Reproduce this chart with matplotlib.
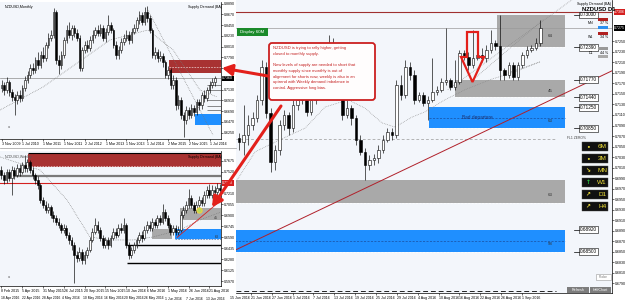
import matplotlib
matplotlib.use("Agg")
import matplotlib.pyplot as plt
import matplotlib.transforms as mtransforms
from matplotlib.patches import Rectangle, FancyBboxPatch, FancyArrowPatch, Polygon
import numpy as np

plt.rcParams['font.family'] = ['Liberation Sans', 'DejaVu Sans']

W, H = 625, 301
BG = '#f3f6fb'
ZONE_RED = '#a83232'
ZONE_GREY = '#a9a9a9'
ZONE_BLUE = '#1f8fff'
ARROW_RED = '#e3201b'
SMALL = 2.6

# ---------------- NZDUSD monthly (top left) ----------------
m_open0 = 0.716
m_close = [0.722, 0.712, 0.728, 0.708, 0.698, 0.692, 0.702, 0.696, 0.716, 0.733,
           0.743, 0.757, 0.753, 0.773, 0.763, 0.784, 0.778, 0.804, 0.819, 0.825,
           0.872, 0.773, 0.763, 0.784, 0.814, 0.835, 0.825, 0.839, 0.829, 0.819,
           0.757, 0.794, 0.804, 0.798, 0.814, 0.825, 0.835, 0.829, 0.839, 0.819,
           0.831, 0.845, 0.835, 0.804, 0.784, 0.794, 0.810, 0.819, 0.825, 0.814,
           0.831, 0.839, 0.855, 0.866, 0.851, 0.872, 0.859, 0.835, 0.784, 0.790,
           0.778, 0.782, 0.769, 0.743, 0.753, 0.722, 0.733, 0.681, 0.692, 0.661,
           0.651, 0.671, 0.661, 0.675, 0.667, 0.687, 0.681, 0.702, 0.696, 0.712,
           0.722, 0.728, 0.736]
m_high = [0.732, 0.728, 0.738, 0.732, 0.714, 0.704, 0.710, 0.712, 0.722, 0.740,
          0.752, 0.765, 0.768, 0.780, 0.790, 0.792, 0.800, 0.810, 0.828, 0.835,
          0.880, 0.876, 0.784, 0.792, 0.820, 0.845, 0.851, 0.846, 0.845, 0.836,
          0.825, 0.800, 0.812, 0.815, 0.822, 0.834, 0.842, 0.845, 0.848, 0.845,
          0.838, 0.866, 0.852, 0.840, 0.812, 0.802, 0.818, 0.826, 0.834, 0.832,
          0.838, 0.848, 0.862, 0.874, 0.872, 0.882, 0.884, 0.866, 0.840, 0.800,
          0.796, 0.792, 0.788, 0.774, 0.762, 0.758, 0.742, 0.738, 0.702, 0.698,
          0.668, 0.680, 0.678, 0.684, 0.682, 0.694, 0.694, 0.708, 0.712, 0.718,
          0.730, 0.736, 0.740]
m_low = [0.708, 0.702, 0.706, 0.700, 0.690, 0.661, 0.684, 0.688, 0.690, 0.710,
         0.726, 0.736, 0.745, 0.746, 0.755, 0.757, 0.770, 0.772, 0.798, 0.812,
         0.818, 0.765, 0.745, 0.756, 0.778, 0.808, 0.818, 0.815, 0.820, 0.812,
         0.750, 0.750, 0.788, 0.790, 0.792, 0.808, 0.818, 0.822, 0.822, 0.812,
         0.810, 0.825, 0.828, 0.798, 0.776, 0.776, 0.788, 0.804, 0.812, 0.806,
         0.808, 0.826, 0.832, 0.848, 0.845, 0.846, 0.852, 0.828, 0.778, 0.775,
         0.770, 0.772, 0.760, 0.736, 0.735, 0.715, 0.714, 0.672, 0.674, 0.652,
         0.616, 0.642, 0.652, 0.654, 0.658, 0.660, 0.672, 0.674, 0.688, 0.690,
         0.706, 0.716, 0.720]
m_dates = ["3 Nov 2009", "1 Jul 2010", "1 Mar 2011", "1 Nov 2011", "2 Jul 2012",
           "1 Mar 2013", "1 Nov 2013", "1 Jul 2014", "2 Mar 2015", "2 Nov 2015",
           "1 Jul 2016"]
m_supply = (64.4, 0.7469, 0.7735, 0.7592)     # start bar, low, high, mid dash
m_demand = (74.4, 0.6404, 0.6629)
m_ma_idx = [-0.6, 16.0, 41.7, 56.3, 66.0, 76.3, 83.0]
m_ma_val = [0.6711, 0.7183, 0.8144, 0.8349, 0.7940, 0.7121, 0.6977]
m_diag_idx = [56.3, 81.3]
m_diag_val = [0.8758, 0.6200]
m_levels = [0.7223, 0.7121, 0.6916, 0.6793, 0.6711]

# ---------------- NZDUSD weekly (bottom left) ----------------
w_open0 = 0.754
w_close = [0.747, 0.740, 0.751, 0.743, 0.754, 0.747, 0.757, 0.751, 0.761, 0.757,
           0.765, 0.754, 0.747, 0.740, 0.733, 0.712, 0.705, 0.698, 0.702, 0.691,
           0.686, 0.681, 0.677, 0.670, 0.672, 0.663, 0.655, 0.648, 0.634, 0.630,
           0.639, 0.627, 0.634, 0.641, 0.655, 0.667, 0.677, 0.670, 0.658, 0.648,
           0.655, 0.648, 0.658, 0.667, 0.663, 0.672, 0.670, 0.677, 0.648, 0.634,
           0.641, 0.648, 0.655, 0.663, 0.658, 0.670, 0.677, 0.672, 0.681, 0.677,
           0.686, 0.681, 0.695, 0.686, 0.677, 0.667, 0.672, 0.667, 0.670, 0.691,
           0.698, 0.705, 0.715, 0.705, 0.698, 0.705, 0.712, 0.708, 0.719, 0.726,
           0.719, 0.726, 0.723, 0.729, 0.726]
w_high = [0.760, 0.752, 0.756, 0.755, 0.760, 0.758, 0.763, 0.762, 0.766, 0.775,
          0.770, 0.768, 0.758, 0.750, 0.745, 0.736, 0.716, 0.710, 0.707, 0.705,
          0.696, 0.690, 0.686, 0.680, 0.678, 0.676, 0.667, 0.660, 0.652, 0.640,
          0.645, 0.643, 0.640, 0.646, 0.660, 0.672, 0.686, 0.682, 0.674, 0.662,
          0.660, 0.659, 0.663, 0.672, 0.673, 0.678, 0.680, 0.686, 0.680, 0.652,
          0.646, 0.653, 0.660, 0.667, 0.668, 0.675, 0.682, 0.682, 0.686, 0.685,
          0.691, 0.690, 0.706, 0.699, 0.690, 0.680, 0.677, 0.676, 0.675, 0.696,
          0.703, 0.710, 0.728, 0.719, 0.709, 0.710, 0.717, 0.716, 0.724, 0.732,
          0.734, 0.733, 0.731, 0.736, 0.734]
w_low = [0.742, 0.735, 0.736, 0.738, 0.719, 0.742, 0.744, 0.746, 0.748, 0.752,
         0.752, 0.750, 0.742, 0.735, 0.728, 0.708, 0.700, 0.694, 0.693, 0.686,
         0.681, 0.676, 0.672, 0.665, 0.666, 0.658, 0.650, 0.642, 0.595, 0.624,
         0.626, 0.622, 0.622, 0.630, 0.638, 0.652, 0.664, 0.666, 0.654, 0.644,
         0.644, 0.643, 0.645, 0.655, 0.658, 0.660, 0.666, 0.666, 0.644, 0.628,
         0.630, 0.637, 0.644, 0.651, 0.653, 0.655, 0.666, 0.668, 0.668, 0.672,
         0.673, 0.676, 0.678, 0.682, 0.672, 0.662, 0.663, 0.662, 0.663, 0.667,
         0.687, 0.694, 0.701, 0.700, 0.694, 0.694, 0.701, 0.704, 0.704, 0.715,
         0.715, 0.715, 0.718, 0.719, 0.721]
w_dates = ["8 Feb 2015", "5 Apr 2015", "31 May 2015", "26 Jul 2015", "20 Sep 2015",
           "15 Nov 2015", "10 Jan 2016", "6 Mar 2016", "1 May 2016", "26 Jun 2016",
           "21 Aug 2016"]
w_dates_row2 = ["18 Apr 2016", "22 Apr 2016", "28 Apr 2016", "4 May 2016", "10 May 2016",
                "16 May 2016", "20 May 2016", "26 May 2016", "1 Jun 2016", "7 Jun 2016",
                "13 Jun 2016"]
w_supply = (10.3, 0.7584, 0.7767, 0.7598, 0.7781)
w_band = (4.1, 0.7451)
w_red_line = 0.7358
w_grey1 = (58.0, 65.7, 0.6567, 0.6710)
w_grey2 = (68.7, 0.6835, 0.7005, "45")
w_blue = (66.8, 0.6563, 0.6710, "63")
w_black_lines = (48.3, [0.6484, 0.6230])
w_trend_idx = [67.6, 84.9]
w_trend_val = [0.6591, 0.7127]
w_ma_idx = [-0.5, 14.9, 25.3, 34.1, 41.8, 50.7, 58.3, 68.7, 76.4, 84.5]
w_ma_val = [0.7725, 0.7541, 0.7118, 0.6597, 0.6555, 0.6555, 0.6597, 0.6696, 0.6837, 0.6949]
w_blob = (76.0, 0.6978)

# ---------------- NZDUSD daily (right) ----------------
d_open0 = 0.7066
d_close = [0.7059, 0.7072, 0.7091, 0.7104, 0.7139, 0.7201, 0.7114, 0.7021, 0.7044, 0.7091,
           0.7110, 0.7085, 0.7129, 0.7139, 0.7148, 0.7116, 0.7139, 0.7154, 0.7177, 0.7205,
           0.7243, 0.7224, 0.7167, 0.7110, 0.7123, 0.7104, 0.7063, 0.7040, 0.7015, 0.7025,
           0.7028, 0.7044, 0.7063, 0.7078, 0.7072, 0.7167, 0.7148, 0.7201, 0.7186, 0.7139,
           0.7148, 0.7133, 0.7139, 0.7154, 0.7158, 0.7173, 0.7177, 0.7163, 0.7173, 0.7228,
           0.7220, 0.7205, 0.7218, 0.7224, 0.7218, 0.7234, 0.7247, 0.7241, 0.7196, 0.7186,
           0.7205, 0.7182, 0.7205, 0.7224, 0.7234, 0.7237, 0.7247, 0.7275]
d_high = [0.7076, 0.7129, 0.7110, 0.7116, 0.7148, 0.7215, 0.7211, 0.7123, 0.7053, 0.7101,
          0.7120, 0.7116, 0.7139, 0.7158, 0.7158, 0.7154, 0.7148, 0.7165, 0.7186, 0.7224,
          0.7262, 0.7256, 0.7234, 0.7173, 0.7139, 0.7129, 0.7110, 0.7072, 0.7047, 0.7034,
          0.7036, 0.7053, 0.7072, 0.7085, 0.7085, 0.7177, 0.7186, 0.7215, 0.7211, 0.7196,
          0.7154, 0.7154, 0.7146, 0.7218, 0.7165, 0.7180, 0.7275, 0.7180, 0.7215, 0.7234,
          0.7234, 0.7230, 0.7272, 0.7230, 0.7237, 0.7243, 0.7272, 0.7253, 0.7300, 0.7199,
          0.7211, 0.7211, 0.7211, 0.7230, 0.7241, 0.7243, 0.7256, 0.7291]
d_low = [0.7044, 0.7034, 0.7053, 0.7082, 0.7097, 0.7129, 0.7104, 0.7002, 0.7006, 0.7034,
         0.7082, 0.7072, 0.7078, 0.7120, 0.7131, 0.7108, 0.7110, 0.7131, 0.7148, 0.7167,
         0.7196, 0.7215, 0.7158, 0.7101, 0.7104, 0.7091, 0.7053, 0.7034, 0.6987, 0.7006,
         0.7015, 0.7019, 0.7038, 0.7059, 0.7063, 0.7066, 0.7139, 0.7142, 0.7177, 0.7131,
         0.7135, 0.7127, 0.7101, 0.7135, 0.7148, 0.7154, 0.7167, 0.7158, 0.7158, 0.7169,
         0.7215, 0.7196, 0.7199, 0.7215, 0.7211, 0.7211, 0.7228, 0.7234, 0.7177, 0.7177,
         0.7180, 0.7177, 0.7177, 0.7199, 0.7218, 0.7230, 0.7234, 0.7241]
d_dates = ["15 Jun 2016", "21 Jun 2016", "27 Jun 2016", "1 Jul 2016", "7 Jul 2016",
           "13 Jul 2016", "19 Jul 2016", "25 Jul 2016", "29 Jul 2016", "4 Aug 2016",
           "10 Aug 2016", "16 Aug 2016", "22 Aug 2016", "26 Aug 2016", "1 Sep 2016"]
d_zone_start = [57.3, 48.0, 42.2, -1.0, -1.0]
d_zone_lo = [0.7239, 0.7144, 0.7085, 0.6943, 0.6850]
d_zone_hi = [0.7300, 0.7177, 0.7125, 0.6987, 0.6892]
d_zone_blue = [False, False, True, False, True]
d_zone_tag = ["64", "45", "63", "63", "58"]
d_zone_end = 72.4
d_level_labels = [0.7300, 0.7239, 0.7177, 0.7144, 0.7125, 0.7085, 0.6892, 0.6850]
d_top_line = 0.7306
d_dash_mid = 0.7065
d_dash_low = 0.6776
d_trend_idx = [-0.67, 82.9]
d_trend_val = [0.6854, 0.7194]
d_ma_idx = [-0.67, 3.56, 9.11, 14.67, 19.11, 24.22, 28.0, 31.78, 34.67, 38.44,
            41.33, 45.78, 50.22, 55.78, 61.33, 66.89]
d_ma_val = [0.6983, 0.7040, 0.7063, 0.7085, 0.7125, 0.7139, 0.7123, 0.7095, 0.7087, 0.7106,
            0.7116, 0.7139, 0.7158, 0.7177, 0.7192, 0.7211]
d_fib = [([46.4, 74.0], [0.7158, 0.7329]),
         ([52.0, 67.6], [0.7177, 0.7291]),
         ([59.8, 66.9], [0.7190, 0.7211])]

notes = ("NZDUSD is trying to rally higher, getting\n"
         "closed to monthly supply.\n\n"
         "New levels of supply are needed to short that\n"
         "monthly supply since monthly is out of\n"
         "alignment for shorts now, weekly is also in an\n"
         "uptrend with Weekly demand imbalance in\n"
         "control. Aggressive long bias.")
tf_labels = ["6M", "3M", "MN", "W1", "D1", "H4"]
tf_icons = ["\u2022", "\u2022", "\u2198", "\u2191", "\u2197", "\u2197"]


def box(x0, y0, x1, y1):
    return [x0 / W, 1 - y1 / H, (x1 - x0) / W, (y1 - y0) / H]


def style_chart(ax, xlim, ylim, yticks, marked):
    ax.set_facecolor(BG)
    ax.set_xlim(*xlim)
    ax.set_ylim(*ylim)
    for s in ('top', 'left'):
        ax.spines[s].set_visible(False)
    for s in ('bottom', 'right'):
        ax.spines[s].set_linewidth(0.5)
    ax.yaxis.tick_right()
    # tick labels hidden under the price markers are left out
    gap = (ylim[1] - ylim[0]) * 0.035
    yticks = [v for v in yticks if all(abs(v - m) > gap for m in marked)]
    ax.set_yticks(yticks, [f'{v:.4f}' for v in yticks])
    ax.tick_params(length=1.5, width=0.4, labelsize=SMALL, pad=0.8)


def candles(ax, open0, close, high, low, width):
    close = np.array(close)
    opn = np.concatenate([[open0], close[:-1]])
    x = np.arange(len(close))
    ax.vlines(x, low, high, color='black', lw=0.45, zorder=3)
    span = ax.get_ylim()[1] - ax.get_ylim()[0]
    bottom = np.minimum(opn, close)
    height = np.maximum(np.abs(close - opn), span * 0.004)
    up = close >= opn
    ax.bar(x[up], height[up], width, bottom[up], color='white', edgecolor='black', lw=0.4, zorder=4)
    ax.bar(x[~up], height[~up], width, bottom[~up], color='black', edgecolor='black', lw=0.4, zorder=4)


def zone(ax, x0, x1, lo, hi, color):
    ax.add_patch(Rectangle((x0, lo), x1 - x0, hi - lo, fc=color, ec='none', zorder=1))


def axis_label(ax, value, fc, fmt='{:.4f}'):
    tr = mtransforms.blended_transform_factory(ax.transAxes, ax.transData)
    ax.text(1.006, value, fmt.format(value), transform=tr, ha='left', va='center', fontsize=SMALL,
            color='white', clip_on=False, zorder=6,
            bbox=dict(fc=fc, ec='none', boxstyle='square,pad=0.2'))


fig = plt.figure(figsize=(W / 100, H / 100), dpi=100, facecolor='white')

# ---- monthly ----
ax_m = fig.add_axes(box(0, 2, 221, 139))
style_chart(ax_m, (-0.58, 84.4), (0.6118, 0.8922), np.arange(0.6250, 0.889, 0.0220), [m_close[-1]])
right_m = ax_m.get_xlim()[1]
zone(ax_m, m_supply[0], right_m, m_supply[1], m_supply[2], ZONE_RED)
ax_m.hlines(m_supply[3], m_supply[0], right_m, color='white', lw=0.4, ls=(0, (3, 2)), zorder=2)
zone(ax_m, m_demand[0], right_m, m_demand[1], m_demand[2], ZONE_BLUE)
ax_m.hlines(m_levels, 79.0, right_m, color='#333333', lw=0.4, zorder=2)
ax_m.axhline(m_close[-1], color='#8c8c8c', lw=0.5, zorder=2)
ax_m.plot(m_ma_idx, m_ma_val, color='#777777', lw=0.5, ls=(0, (1, 1.5)), zorder=2)
ax_m.plot(m_diag_idx, m_diag_val, color='#777777', lw=0.5, ls=(0, (1, 1.5)), zorder=2)
candles(ax_m, m_open0, m_close, m_high, m_low, 0.62)
ax_m.set_xticks(np.arange(0, 81, 8), m_dates, ha='left')
axis_label(ax_m, m_close[-1], 'black')
ax_m.text(0.02, 0.955, "NZDUSD,Monthly", transform=ax_m.transAxes, fontsize=SMALL)
ax_m.text(0.85, 0.955, "Supply Demand (BA)", transform=ax_m.transAxes, fontsize=SMALL, ha='left')
ax_m.text(0.035, 0.08, "a", transform=ax_m.transAxes, fontsize=SMALL, color='#555555')

# ---- weekly ----
ax_w = fig.add_axes(box(0, 151, 221, 286))
style_chart(ax_w, (-0.5, 84.5), (0.5906, 0.7809), np.arange(0.5970, 0.781, 0.0155), [w_red_line])
right_w = ax_w.get_xlim()[1]
zone(ax_w, w_supply[0], right_w, w_supply[1], w_supply[2], ZONE_RED)
ax_w.hlines(w_supply[3], w_supply[0], right_w, color='white', lw=0.4, ls=(0, (3, 2)), zorder=2)
ax_w.hlines(w_supply[4], w_supply[0], right_w, color='black', lw=0.8, zorder=2)
ax_w.hlines(w_band[1], w_band[0], right_w, color='#7a7a7a', lw=1.6, zorder=2)
ax_w.axhline(w_red_line, color='#d42020', lw=0.8, zorder=2)
zone(ax_w, w_grey1[0], w_grey1[1], w_grey1[2], w_grey1[3], ZONE_GREY)
zone(ax_w, w_grey2[0], right_w, w_grey2[1], w_grey2[2], ZONE_GREY)
zone(ax_w, w_blue[0], right_w, w_blue[1], w_blue[2], ZONE_BLUE)
ax_w.hlines(w_blue[1] + 0.0008, w_blue[0], right_w, color='#1a4f9f', lw=0.4, ls=(0, (3, 2)), zorder=2)
ax_w.text(83.5, w_grey2[1] + 0.002, w_grey2[3], fontsize=SMALL, color='#333333', ha='right', zorder=5)
ax_w.text(83.5, w_blue[1] + 0.002, w_blue[3], fontsize=SMALL, color='#333333', ha='right', zorder=5)
ax_w.hlines(w_black_lines[1], w_black_lines[0], right_w, color='black', lw=1.0, zorder=2)
ax_w.plot(w_ma_idx, w_ma_val, color='#777777', lw=0.5, ls=(0, (1, 1.5)), zorder=2)
candles(ax_w, w_open0, w_close, w_high, w_low, 0.62)
ax_w.plot(w_trend_idx, w_trend_val, color='#d42020', lw=0.6, zorder=5)
ax_w.scatter([w_blob[0]], [w_blob[1]], s=14, color='#b5dc5a', edgecolor='#f0d040', lw=0.8, zorder=6)
ax_w.set_xticks(np.arange(0, 81, 8), w_dates, ha='left')
axis_label(ax_w, w_red_line, '#d42020')
ax_w.text(0.02, 0.97, "NZDUSD,Weekly", transform=ax_w.transAxes, fontsize=SMALL, va='top', color='#555555')
ax_w.text(0.85, 0.97, "Supply Demand (BA)", transform=ax_w.transAxes, fontsize=SMALL, va='top')
ax_w.text(0.035, 0.06, "a", transform=ax_w.transAxes, fontsize=SMALL, color='#555555')

# ---- daily ----
ax_d = fig.add_axes(box(236, 0, 612, 293))
style_chart(ax_d, (-0.667, 82.89), (0.67718, 0.73285), np.arange(0.6790, 0.7330, 0.0020),
            [d_top_line, d_close[-1]])
for x0, lo, hi, blue, tag in zip(d_zone_start, d_zone_lo, d_zone_hi, d_zone_blue, d_zone_tag):
    zone(ax_d, x0, d_zone_end, lo, hi, ZONE_BLUE if blue else ZONE_GREY)
    ax_d.hlines(lo, x0, d_zone_end, color='white', lw=0.5, ls=(0, (3, 2)), zorder=2)
    if blue:
        ax_d.hlines((lo + hi) / 2, x0, d_zone_end, color='#1a4f9f', lw=0.5, ls=(0, (3, 2)), zorder=2)
    ax_d.text(68.7, lo + (hi - lo) * 0.3, tag, fontsize=3.2, color='#333333', zorder=5)
ax_d.text(53.0, (d_zone_lo[2] + d_zone_hi[2]) / 2, "Bad departure", fontsize=3.4,
          color='#1b2f6e', ha='center', va='center', zorder=5)
ax_d.axhline(d_top_line, color='#a03030', lw=0.8, zorder=2)
ax_d.axhline(d_close[-1], color='#9a9a9a', lw=0.5, zorder=2)
ax_d.hlines(d_dash_mid, -0.667, 70.5, color='#999999', lw=0.5, ls=(0, (4, 3)), zorder=2)
ax_d.hlines(d_dash_low, -0.667, 70.5, color='#222222', lw=0.7, ls=(0, (5, 3)), zorder=2)
ax_d.plot(d_ma_idx, d_ma_val, color='#888888', lw=0.5, ls=(0, (1, 1.5)), zorder=2)
for fx, fy in d_fib:
    ax_d.plot(fx, fy, color='#888888', lw=0.5, ls=(0, (1, 1.5)), zorder=2)
ax_d.plot(d_trend_idx, d_trend_val, color='#b0202a', lw=0.7, zorder=5)
candles(ax_d, d_open0, d_close, d_high, d_low, 0.62)
d_date_pos = np.linspace(-2.0, 62.9, len(d_dates))
ax_d.set_xticks(d_date_pos[d_date_pos > -0.6], [])
tr_x = mtransforms.blended_transform_factory(ax_d.transData, ax_d.transAxes)
for pos, lbl in zip(d_date_pos, d_dates):
    ax_d.text(pos, -0.01, lbl, transform=tr_x, fontsize=SMALL, ha='left', va='top', clip_on=False)
tr_y = mtransforms.blended_transform_factory(ax_d.transAxes, ax_d.transData)
for v in d_level_labels:
    ax_d.text(0.915, v, f'{v:.5f}', transform=tr_y, fontsize=3.4, ha='left', va='center', zorder=6,
              bbox=dict(fc='white', ec='black', lw=0.4, boxstyle='square,pad=0.2'))
    ax_d.plot([0.9, 0.912], [v, v], transform=tr_y, color='black', lw=0.5, zorder=6)
ax_d.text(0.88, 0.705 + 0.0014, "FL1 ZERO%", fontsize=2.4, color='#444444', zorder=6,
          transform=tr_y)
axis_label(ax_d, d_top_line, '#d42020')
axis_label(ax_d, d_close[-1], 'black')

# ---- overlay (annotations, buttons) ----
ax_o = fig.add_axes([0, 0, 1, 1], zorder=10)
ax_o.set_xlim(0, W)
ax_o.set_ylim(H, 0)
ax_o.axis('off')
ax_o.patch.set_alpha(0)

ax_o.plot([0, 236], [147.5, 147.5], color='#9a9a9a', lw=0.5)
for k, lbl in enumerate(w_dates_row2):
    ax_o.text(1 + 20.5 * k, 298.5, lbl, fontsize=2.4, ha='left', va='center')

ax_o.add_patch(Rectangle((237, 27.5), 31, 8, fc='#1a8a2a', ec='none'))
ax_o.text(252.5, 31.6, "Display 60M", fontsize=3.2, color='white', ha='center', va='center')

ax_o.add_patch(FancyBboxPatch((269, 43), 106, 57, boxstyle='round,pad=0,rounding_size=3',
                              fc='#fffdfd', ec='#cc2020', lw=1.3))
ax_o.text(273, 46.5, notes, fontsize=3.0, color='#c41e1e', ha='left', va='top', linespacing=1.55)

for (x0, y0), (x1, y1) in [((268, 76), (222, 68)), ((281, 106), (212, 207))]:
    ax_o.add_patch(FancyArrowPatch((x0, y0), (x1, y1), arrowstyle='-|>,head_length=1.0,head_width=0.55',
                                   mutation_scale=6, color=ARROW_RED, lw=2.2, shrinkA=0, shrinkB=0))

ax_o.add_patch(Polygon([(467, 32), (478, 32), (478, 57), (484, 57), (472.5, 82), (461, 57), (467, 57)],
                       closed=True, fill=False, ec=ARROW_RED, lw=1.6))

ax_o.text(577, 3.5, "Supply Demand (BA)", fontsize=SMALL, ha='left', va='center')
ax_o.text(582, 9.5, "NZDUSD D1", fontsize=4.2, fontweight='bold', ha='left', va='center')
for y, tf, pct, c1, c2 in [(18, "MN", "37 %", '#b02020', '#2a8ff0'), (32, "W1", "34 %", '#b02020', None),
                           (47, "D1", "44 %", '#999999', '#aaaaaa')]:
    ax_o.add_patch(Rectangle((598, y), 10, 3, fc=c1, ec='none'))
    ax_o.text(591, y + 5.5, tf, fontsize=SMALL, ha='center', va='center')
    ax_o.text(600, y + 5.5, pct, fontsize=SMALL, ha='left', va='center')
    if c2:
        ax_o.add_patch(Rectangle((598, y + 8), 10, 2.5, fc=c2, ec='none'))

for k, (lbl, icon) in enumerate(zip(tf_labels, tf_icons)):
    top = 142 + k * 12
    ax_o.add_patch(Rectangle((582, top), 26, 8.5, fc='#111111', ec='#444444', lw=0.3))
    ax_o.text(607, top + 4.5, lbl, fontsize=4.6, color='#f2e33a', ha='right', va='center')
    ax_o.text(588, top + 4.5, icon, fontsize=4.2, fontweight='bold',
              color='#2ecc40' if lbl == 'W1' else '#f2e33a', ha='center', va='center',
              family='DejaVu Sans')

ax_o.add_patch(Rectangle((596, 274), 15, 6, fc='white', ec='#999999', lw=0.4))
ax_o.text(603.5, 277, "Probe", fontsize=2.4, color='#777777', ha='center', va='center')
for x0, wd, lbl in [(567, 22, "Refresh"), (590, 21, "HalfChart")]:
    ax_o.add_patch(Rectangle((x0, 287), wd, 6, fc='#7d7d7d', ec='none'))
    ax_o.text(x0 + wd / 2, 290, lbl, fontsize=SMALL, color='white', ha='center', va='center')

fig.savefig('out.png', dpi=100)
